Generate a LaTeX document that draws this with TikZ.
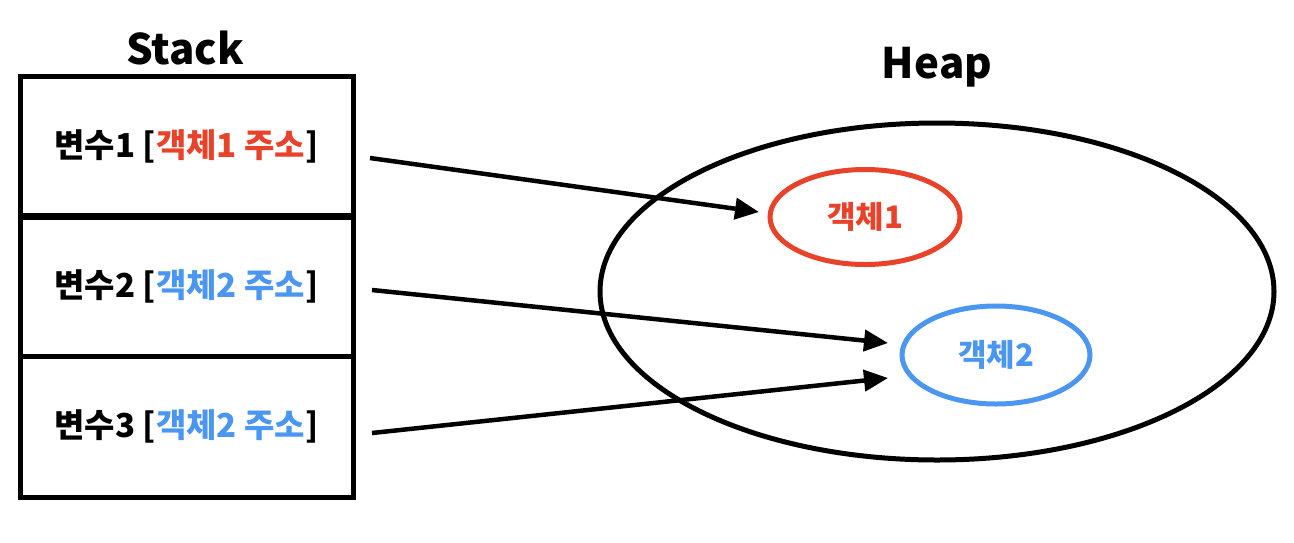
\documentclass[tikz,border=0pt]{standalone}
\usepackage{fontspec}
\setmainfont{Noto Sans CJK KR}
\usetikzlibrary{arrows.meta,shapes.geometric}
\definecolor{objred}{HTML}{E8432A}
\definecolor{objblue}{HTML}{4A96F0}
\tikzset{
  cell/.style={draw=black,line width=5pt,minimum width=333pt,minimum height=141pt,inner sep=0pt,
    font=\fontsize{33}{38}\selectfont\bfseries},
  title/.style={font=\fontsize{42}{48}\selectfont\bfseries},
  heapell/.style={draw=black,ellipse,line width=5pt,minimum width=674pt,minimum height=337pt,inner sep=0pt},
  objell/.style={ellipse,line width=5pt,minimum width=190pt,minimum height=95pt,inner sep=0pt,
    font=\fontsize{31}{36}\selectfont\bfseries},
  ptr/.style={line width=4.5pt,-{Triangle[length=24pt,width=21pt]}}
}
\begin{document}
\begin{tikzpicture}[x=1pt,y=-1pt]
\useasboundingbox (0,0) rectangle (1294,542);
\node[title] (stacklbl) at (185,48) {Stack};
\node[title] (heaplbl) at (937,67) {Heap};
\node[cell] (c1) at (186.5,146.5) {변수1 [\textcolor{objred}{객체1 주소}]};
\node[cell] (c2) at (186.5,286) {변수2 [\textcolor{objblue}{객체2 주소}]};
\node[cell] (c3) at (186.5,426.5) {변수3 [\textcolor{objblue}{객체2 주소}]};
\node[heapell] (heap) at (937,291.5) {};
\node[objell,draw=objred,text=objred] (o1) at (865,217) {객체1};
\node[objell,draw=objblue,text=objblue,minimum width=188pt,minimum height=98pt] (o2) at (996,355) {객체2};
\coordinate (s1) at (370,158);
\coordinate (s2) at (372,290);
\coordinate (s3) at (372,433);
\coordinate (t1) at (759,212);
\coordinate (t2) at (888,343);
\coordinate (t3) at (888,378);
\draw[ptr] (s1) -- (t1);
\draw[ptr] (s2) -- (t2);
\draw[ptr] (s3) -- (t3);
\end{tikzpicture}
\end{document}
